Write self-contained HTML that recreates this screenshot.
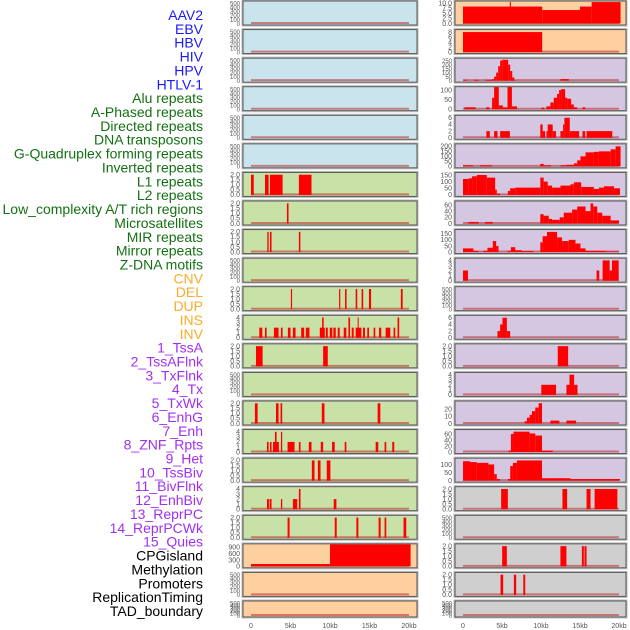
<!DOCTYPE html>
<html><head><meta charset="utf-8">
<style>
html,body{margin:0;padding:0;background:#fff;width:630px;height:630px;overflow:hidden}
svg{display:block}
text{font-family:"Liberation Sans",sans-serif}
</style></head>
<body>
<svg id="chart" width="630" height="630" viewBox="0 0 630 630"></svg>
<script>
const labels=["AAV2","EBV","HBV","HIV","HPV","HTLV-1","Alu repeats","A-Phased repeats","Directed repeats","DNA transposons","G-Quadruplex forming repeats","Inverted repeats","L1 repeats","L2 repeats","Low_complexity A/T rich regions","Microsatellites","MIR repeats","Mirror repeats","Z-DNA motifs","CNV","DEL","DUP","INS","INV","1_TssA","2_TssAFlnk","3_TxFlnk","4_Tx","5_TxWk","6_EnhG","7_Enh","8_ZNF_Rpts","9_Het","10_TssBiv","11_BivFlnk","12_EnhBiv","13_ReprPC","14_ReprPCWk","15_Quies","CPGisland","Methylation","Promoters","ReplicationTiming","TAD_boundary"];
const labelColors=["#1a1aff","#1a1aff","#1a1aff","#1a1aff","#1a1aff","#1a1aff","#137013","#137013","#137013","#137013","#137013","#137013","#137013","#137013","#137013","#137013","#137013","#137013","#137013","#fbab2a","#fbab2a","#fbab2a","#fbab2a","#fbab2a","#a030f0","#a030f0","#a030f0","#a030f0","#a030f0","#a030f0","#a030f0","#a030f0","#a030f0","#a030f0","#a030f0","#a030f0","#a030f0","#a030f0","#a030f0","#000","#000","#000","#000","#000"];
const xTickValues=[0,5,10,15,20];
const xTickLabels=["0","5kb","10kb","15kb","20kb"];
const T500=[0,100,200,300,400,500], T2=[0,0.5,1,1.5,2], T4=[0,1,2,3,4];
// left column: each panel [bg, ymax, ticks, segments [startKb,endKb,value]]
const leftBg=["#c9e4ec","#c9e4ec","#c9e4ec","#c9e4ec","#c9e4ec","#c9e4ec","#c8e1a6","#c8e1a6","#c8e1a6","#c8e1a6","#c8e1a6","#c8e1a6","#c8e1a6","#c8e1a6","#c8e1a6","#c8e1a6","#c8e1a6","#c8e1a6","#c8e1a6","#fecf9f","#fecf9f","#fecf9f"];
const leftMax=[520,520,520,520,520,520,2.08,2.08,2.08,520,2.08,4.15,2.08,520,2.08,4.15,2.08,4.15,2.08,1000,520,520];
const leftTicks=[T500,T500,T500,T500,T500,T500,T2,T2,T2,T500,T2,T4,T2,T500,T2,T4,T2,T4,T2,[0,300,600,900],T500,T500];
const leftSeg=[[],[],[],[],[],[],
[[0,0.35,2],[1.77,2.23,2],[2.4,4.0,2],[6.06,7.66,2]],
[[4.55,4.75,2]],
[[2.06,2.23,2],[2.4,2.6,2],[6.06,6.25,2]],
[],
[[5.05,5.2,2],[11.15,11.3,2],[11.9,12.1,2],[13.25,13.45,2],[14.0,14.2,2],[14.93,15.2,2],[18.97,19.2,2]],
[[1.05,1.43,2],[1.77,1.98,2],[2.9,3.49,2],[3.79,4.0,2],[4.67,5.0,2],[5.3,5.64,2],[6.35,6.73,2],[6.94,7.4,2],[8.71,9.34,2],[9.0,9.2,4],[9.47,9.72,2],[9.97,10.3,2],[10.43,10.73,2],[10.98,11.23,2],[11.74,12.07,2],[12.33,12.54,4],[12.75,13.0,2],[13.25,13.97,2],[13.5,13.63,4],[14.18,14.43,2],[14.72,14.94,2],[15.52,15.73,2],[16.2,16.49,2],[17.04,17.63,2],[18.05,18.26,2],[18.55,18.76,4]],
[[0.63,1.47,2],[9.13,9.72,2]],
[],
[[0.5,0.84,2],[3.16,3.49,2],[3.74,3.95,2],[8.96,9.3,2],[16.03,16.37,2]],
[[2.02,2.23,2],[2.4,2.6,2],[2.78,3.53,2],[3.03,3.24,4],[3.79,3.95,4],[4.63,5.51,2],[6.06,6.27,2],[7.32,7.66,2],[8.83,9.13,2],[10.26,10.6,2],[11.86,12.07,2],[15.78,16.11,2],[16.91,17.12,2],[17.88,18.13,2]],
[[7.7,8.04,2],[8.46,8.8,2],[9.59,10.05,2]],
[[2.02,2.27,2],[2.36,2.6,2],[3.79,3.95,2],[5.3,5.85,2],[6.06,6.27,4],[10.47,10.81,2]],
[[4.63,4.88,2],[10.6,10.85,2],[13.34,13.59,2],[16.15,16.41,2],[16.91,17.12,2],[19.31,19.65,2]],
[[0,10,110],[10,20.2,1050]],
[],[]];
const rightBg=["#fecf9f","#fecf9f","#d5c6e2","#d5c6e2","#d5c6e2","#d5c6e2","#d5c6e2","#d5c6e2","#d5c6e2","#d5c6e2","#d5c6e2","#d5c6e2","#d5c6e2","#d5c6e2","#d5c6e2","#d5c6e2","#d5c6e2","#cfcfcf","#cfcfcf","#cfcfcf","#cfcfcf","#cfcfcf"];
const rightMax=[10.3,8.4,262,110,6.3,210,158,68,172,4.15,520,6.3,2.08,4.15,29,70,130,2.08,520,2.08,2.08,520];
const rightTicks=[[0,2.5,5,7.5,10],[0,2,4,6,8],[0,50,100,150,200,250],[0,50,100],[0,2,4,6],[0,50,100,150,200],[0,50,100,150],[0,20,40,60],[0,50,100,150],T4,T500,[0,2,4,6],T2,T4,[0,10,20],[0,20,40,60],[0,50,100],T2,T500,T2,T2,T500];
const rightTickText=[["0.0","2.5","5.0","7.5","10.0"]];
const rightSeg=[
[[0,10.15,8.3],[10.15,15,6.6],[15,16.5,8.3],[16.5,20.2,10.5],[6.0,6.15,10.5]],
[[0,10.15,8]],
[[0.05,0.45,10],[1.46,2.02,10],[2.88,3.73,10],[3.73,3.99,20],[3.99,4.25,50],[4.25,4.51,100],[4.51,4.76,180],[4.76,5.02,250],[5.02,5.79,260],[5.79,6.05,200],[6.05,6.31,120],[6.31,6.57,40],[6.57,6.7,10],[12.49,13.56,20]],
[[0.17,1.63,10],[2.96,3.39,10],[3.73,3.99,60],[3.99,4.59,130],[4.59,5.11,20],[5.11,5.71,10],[5.71,6.27,130],[6.27,6.91,15],[10.04,10.43,8],[10.69,11.2,15],[11.2,11.63,35],[11.63,12.06,60],[12.06,12.32,80],[12.32,12.58,100],[12.58,13.09,105],[13.09,13.35,60],[13.35,13.86,55],[13.86,14.21,25],[14.21,14.64,10],[15.32,15.67,10]],
[[3.0,3.43,2],[3.99,4.42,2],[4.76,6.01,2],[9.91,10.21,4],[10.21,10.52,2],[10.69,10.86,2],[10.86,11.5,4],[11.5,11.93,2],[12.49,12.83,2],[12.83,13.0,4],[13.0,13.69,6],[13.69,14.89,2],[15.32,15.67,2],[15.84,19.14,2]],
[[0,1.33,10],[2.19,3.69,10],[9.91,10.34,25],[10.34,11.29,10],[12.49,13.26,10],[13.26,14.21,15],[14.21,14.64,30],[14.64,15.06,60],[15.06,15.71,100],[15.71,16.78,140],[16.78,17.42,145],[17.42,18.93,150],[18.93,19.57,170],[19.57,20.2,200]],
[[0,0.73,120],[0.73,1.16,125],[1.16,1.76,140],[1.76,3.05,150],[3.05,4.12,130],[4.12,4.33,40],[4.33,4.76,10],[5.75,6.05,30],[6.05,6.7,50],[6.7,9.91,55],[9.91,10.34,130],[10.34,10.86,100],[10.86,11.42,70],[11.42,12.49,55],[12.49,13.78,70],[13.78,14.21,80],[14.21,15.15,95],[15.15,16.78,60],[16.78,17.42,45],[17.42,18.07,55],[18.07,19.36,65],[19.36,20.13,50]],
[[0.69,2.02,5],[2.83,3.82,5],[9.91,10.34,30],[10.34,10.99,25],[10.99,11.42,15],[11.42,12.4,12],[12.4,12.92,20],[12.92,13.99,35],[13.99,14.64,45],[14.64,15.71,55],[15.71,16.35,40],[16.35,16.7,65],[16.7,17.21,55],[17.21,17.85,35],[17.85,18.93,25],[18.93,20.0,10]],
[[0,1.33,30],[1.33,1.97,10],[2.62,3.13,10],[3.13,3.82,35],[3.82,4.25,90],[4.25,4.55,50],[5.71,6.14,10],[6.14,6.7,40],[6.7,7.55,15],[7.55,9.06,8],[9.91,10.21,80],[10.21,10.77,130],[10.77,12.06,165],[12.06,12.7,120],[12.7,13.56,90],[13.56,14.42,100],[14.42,15.06,70],[15.06,15.71,30],[15.71,18.28,10],[18.28,20,5]],
[[0,0.64,2],[17.12,17.47,2],[17.9,18.8,4],[18.8,19.1,2],[19.1,19.96,4]],
[],
[[4.42,4.76,2],[4.76,5.06,4],[5.06,5.62,6],[5.62,6.05,2]],
[[12.15,13.48,2]],
[[10.04,11.93,2],[13.26,13.65,2],[13.65,14.25,4],[14.25,14.68,2]],
[[7.9,8.2,3],[8.2,8.54,8],[8.54,8.84,12],[8.84,9.27,17],[9.27,9.7,22],[9.7,10.13,28],[11.2,12.36,4],[13.26,14.5,4]],
[[5.84,6.14,5],[6.14,6.48,60],[6.48,8.54,68],[8.54,9.27,62],[9.27,10.13,55],[10.13,11.5,5]],
[[0,0.9,120],[0.9,1.76,115],[1.76,3.26,110],[3.26,3.99,100],[3.99,4.33,40],[4.33,4.76,10],[5.75,6.05,10],[6.05,6.4,90],[6.4,6.91,110],[6.91,10.13,125],[10.13,13.78,15],[13.78,20.13,10]],
[[4.89,5.75,2],[12.75,13.35,2],[15.84,16.35,2],[16.87,19.79,2]],
[],
[[5.02,5.62,2],[12.49,13.26,2],[15.24,15.49,2],[15.58,15.84,2]],
[[4.81,5.15,2],[6.52,6.82,2],[7.73,7.98,2]],
[]];

const NS="http://www.w3.org/2000/svg";
const svg=document.getElementById('chart');
function mk(tag,attrs,parent){const e=document.createElementNS(NS,tag);for(const k in attrs)e.setAttribute(k,attrs[k]);(parent||svg).appendChild(e);return e;}

// labels
labels.forEach((t,i)=>{
  const e=mk('text',{x:203,y:20+i*13.86,'text-anchor':'end','font-size':14,fill:labelColors[i]});
  
  
  e.textContent=t;
});

const pitch=28.57;
const cols=[
 {x:243,w:174,x0:251,x20:409,bg:leftBg,max:leftMax,ticks:leftTicks,seg:leftSeg,name:'left'},
 {x:455,w:171,x0:463,x20:619,bg:rightBg,max:rightMax,ticks:rightTicks,seg:rightSeg,name:'right'}
];
function fmt(v,ticks){const dec=ticks.some(t=>t%1!==0);return dec?v.toFixed(1):String(v);}
cols.forEach((c,ci)=>{
  const xs=kb=>c.x0+(c.x20-c.x0)*kb/20;
  for(let r=0;r<22;r++){
    const top=1+r*pitch, h=(r===21?16:24);
    const g=mk('g',{});
    
    
    const bg=mk('rect',{x:c.x-1,y:top-1,width:c.w+2,height:h+2,fill:'none',stroke:'#bbb','stroke-width':1},g);
    const rect=mk('rect',{x:c.x,y:top,width:c.w,height:h,fill:c.bg[r]},g);
    
    
    const bottom=top+h-1.5, ph=h-3;
    const ys=v=>bottom-ph*v/c.max[r];
    // baseline
    const bl=mk('line',{x1:xs(0),x2:xs(20),y1:bottom-0.5,y2:bottom-0.5,stroke:'rgba(190,40,40,0.55)','stroke-width':2},g);
    
    
    c.seg[r].forEach(s=>{
      const yt=Math.max(top,ys(s[2]));
      const b=mk('rect',{x:xs(s[0]),y:yt,width:Math.max(1,xs(s[1])-xs(s[0])),height:bottom-yt,fill:'#ff0000'},g);
      
      
    });
    mk('rect',{x:c.x,y:top,width:c.w,height:h,fill:'none',stroke:'#555','stroke-width':1},g);
    const tk=c.ticks[r];
    tk.forEach((t,ti)=>{
      const lab=(ci===1&&r===0)?rightTickText[0][ti]:fmt(t,tk);
      const tt=mk('text',{x:c.x-3,y:ys(t)+2.3,'text-anchor':'end','font-size':(tk.length>5?6:7),fill:'#555'},g);
      
      
      tt.textContent=lab;
    });
  }
  xTickValues.forEach((v,i)=>{
    const t=mk('text',{x:xs(v),y:628,'text-anchor':'middle','font-size':7,fill:'#555'});
    
    
    t.textContent=xTickLabels[i];
  });
});
</script>
</body></html>
